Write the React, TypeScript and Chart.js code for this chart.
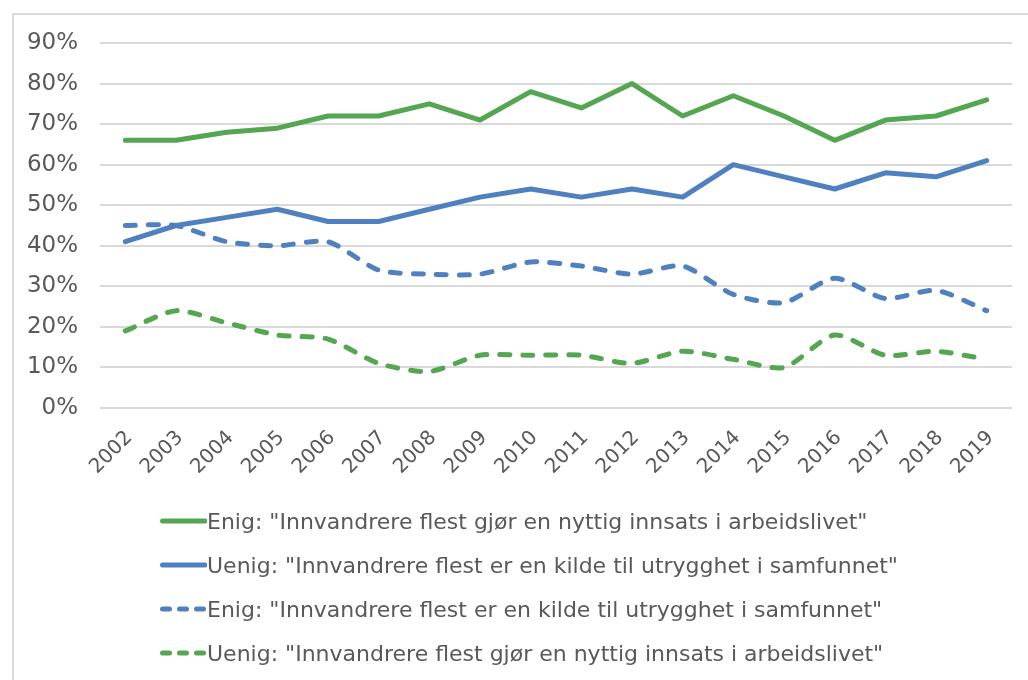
import React, { useEffect, useRef } from "react";
import { Chart, registerables } from "chart.js";

Chart.register(...registerables);

const years = [
  "2002", "2003", "2004", "2005", "2006", "2007", "2008", "2009", "2010",
  "2011", "2012", "2013", "2014", "2015", "2016", "2017", "2018", "2019",
];

const enigArbeidsliv = [66, 66, 68, 69, 72, 72, 75, 71, 78, 74, 80, 72, 77, 72, 66, 71, 72, 76];
const uenigUtrygghet = [41, 45, 47, 49, 46, 46, 49, 52, 54, 52, 54, 52, 60, 57, 54, 58, 57, 61];
const enigUtrygghet = [45, 45, 41, 40, 41, 34, 33, 33, 36, 35, 33, 35, 28, 26, 32, 27, 29, 24];
const uenigArbeidsliv = [19, 24, 21, 18, 17, 11, 9, 13, 13, 13, 11, 14, 12, 10, 18, 13, 14, 12];

const labelEnigArbeidsliv = 'Enig: "Innvandrere flest gjør en nyttig innsats i arbeidslivet"';
const labelUenigUtrygghet = 'Uenig: "Innvandrere flest er en kilde til utrygghet i samfunnet"';
const labelEnigUtrygghet = 'Enig: "Innvandrere flest er en kilde til utrygghet i samfunnet"';
const labelUenigArbeidsliv = 'Uenig: "Innvandrere flest gjør en nyttig innsats i arbeidslivet"';

const yMin = 0;
const yMax = 90;
const yStep = 10;

const GREEN = "#55a651";
const BLUE = "#4f81c0";
const TEXT = "#595959";
const GRID = "#d9d9d9";
const FONT = "'DejaVu Sans', Verdana, sans-serif";

const series = [
  { label: labelEnigArbeidsliv, data: enigArbeidsliv, color: GREEN, dashed: false },
  { label: labelUenigUtrygghet, data: uenigUtrygghet, color: BLUE, dashed: false },
  { label: labelEnigUtrygghet, data: enigUtrygghet, color: BLUE, dashed: true },
  { label: labelUenigArbeidsliv, data: uenigArbeidsliv, color: GREEN, dashed: true },
];

export default function App() {
  const canvasRef = useRef<HTMLCanvasElement | null>(null);

  useEffect(() => {
    if (!canvasRef.current) return;
    const chart = new Chart(canvasRef.current, {
      type: "line",
      data: {
        labels: years,
        datasets: series.map((s) => ({
          label: s.label,
          data: s.data,
          borderColor: s.color,
          backgroundColor: s.color,
          borderWidth: 5,
          borderDash: s.dashed ? [10, 13] : [],
          borderCapStyle: "round" as const,
          borderJoinStyle: "round" as const,
          tension: s.dashed ? 0.25 : 0,
          pointRadius: 0,
          pointHoverRadius: 0,
          fill: false,
        })),
      },
      options: {
        responsive: false,
        animation: false,
        layout: { padding: { left: 12, top: 43, right: 16, bottom: 0 } },
        plugins: {
          legend: { display: false },
          tooltip: { enabled: false },
          title: { display: false },
        },
        scales: {
          x: {
            offset: true,
            grid: { display: false },
            border: { display: false },
            ticks: {
              color: TEXT,
              font: { family: FONT, size: 20 },
              minRotation: 45,
              maxRotation: 45,
              autoSkip: false,
              padding: 10,
              labelOffset: 4,
            },
            afterFit: (scale: any) => {
              scale.height = 92;
            },
          },
          y: {
            min: yMin,
            max: yMax,
            grid: { color: GRID, lineWidth: 2, drawTicks: false },
            border: { display: false },
            ticks: {
              stepSize: yStep,
              color: TEXT,
              font: { family: FONT, size: 23 },
              padding: 22,
              callback: (v: any) => `${v}%`,
            },
            afterFit: (scale: any) => {
              scale.width = 88;
            },
          },
        },
      },
    });
    return () => chart.destroy();
  }, []);

  return (
    <div
      style={{
        position: "fixed",
        left: 0,
        top: 0,
        width: 1028,
        height: 680,
        overflow: "hidden",
        background: "#ffffff",
      }}
    >
      <div
        style={{
          position: "absolute",
          left: 12,
          top: 13,
          width: 1100,
          height: 800,
          border: `2px solid ${GRID}`,
          boxSizing: "border-box",
        }}
      />
      <canvas
        ref={canvasRef}
        width={1028}
        height={500}
        style={{ position: "absolute", left: 0, top: 0, width: 1028, height: 500 }}
      />
      <div
        style={{
          position: "absolute",
          left: 160,
          top: 499,
          fontFamily: FONT,
          fontSize: 22,
          color: TEXT,
          whiteSpace: "nowrap",
        }}
      >
        {series.map((s) => (
          <div key={s.label} style={{ height: 44, display: "flex", alignItems: "center" }}>
            <svg width={47} height={44} style={{ display: "block" }}>
              <line
                x1={2.5}
                y1={22}
                x2={s.dashed ? 44 : 45}
                y2={22}
                stroke={s.color}
                strokeWidth={5}
                strokeLinecap="round"
                strokeDasharray={s.dashed ? "7 10" : undefined}
              />
            </svg>
            <span>{s.label}</span>
          </div>
        ))}
      </div>
    </div>
  );
}
